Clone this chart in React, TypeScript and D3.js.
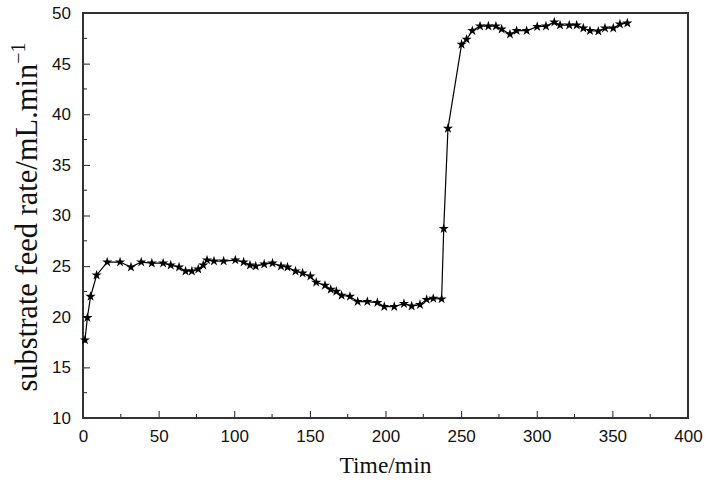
import React, { useEffect, useRef } from 'react';
import * as d3 from 'd3';

// time (min) and substrate feed rate
const times = [
  1.3, 2.9, 5, 9, 16, 24.5, 31.7, 38.5, 45.5, 53, 58, 63.5, 67.8, 72, 76.2, 79.5, 82, 86.6, 93,
  100.7, 106.2, 110.4, 114.2, 119.8, 125.3, 130.9, 135.2, 140.5, 145.2, 150.3, 154.2, 160, 163.8,
  167.5, 171, 176.5, 181.6, 188, 194.6, 199.2, 205.8, 212.2, 217.3, 222.8, 227.2, 231.6, 237.1,
  238.5, 241.3, 250.3, 253.6, 257.4, 262.5, 268, 273, 276.8, 282.3, 286.7, 293.3, 300.3, 306.1,
  311.6, 315.4, 321.5, 326.4, 330.8, 335.2, 340.7, 345.1, 350.6, 355, 359.9,
];
const feedRates = [
  17.7, 19.9, 22.0, 24.1, 25.4, 25.4, 24.9, 25.4, 25.3, 25.3, 25.1, 24.9, 24.5, 24.5, 24.7, 25.1,
  25.6, 25.5, 25.5, 25.6, 25.4, 25.1, 25.0, 25.2, 25.3, 25.0, 24.9, 24.5, 24.3, 24.0, 23.4, 23.1,
  22.7, 22.5, 22.1, 22.0, 21.5, 21.5, 21.4, 21.0, 21.0, 21.3, 21.05, 21.2, 21.7, 21.8, 21.75,
  28.7, 38.6, 46.9, 47.4, 48.25, 48.7, 48.7, 48.7, 48.4, 47.9, 48.25, 48.25, 48.65, 48.7, 49.1,
  48.8, 48.8, 48.8, 48.5, 48.25, 48.2, 48.5, 48.5, 48.9, 49.0,
];
const xTicks = [0, 50, 100, 150, 200, 250, 300, 350, 400];
const yTicks = [10, 15, 20, 25, 30, 35, 40, 45, 50];

const SANS = "'Liberation Sans', Arial, sans-serif";
const SERIF = "'Liberation Serif', 'Times New Roman', serif";

export default function App() {
  const ref = useRef<SVGSVGElement>(null);

  useEffect(() => {
    const svg = d3.select(ref.current);
    svg.selectAll('*').remove();

    const width = 709;
    const height = 483;
    const margin = { top: 13, right: 21, bottom: 65, left: 83 };

    const x = d3.scaleLinear().domain([0, 400]).range([margin.left, width - margin.right]);
    const y = d3.scaleLinear().domain([10, 50]).range([height - margin.bottom, margin.top]);

    const data = times.map((t, i) => ({ t, v: feedRates[i] }));

    // X axis: inward ticks, minor every 25
    const xAxis = svg.append('g').attr('transform', `translate(0,${y(10)})`);
    xAxis
      .call(d3.axisBottom(x).tickValues(xTicks).tickSizeInner(-7).tickSizeOuter(0).tickPadding(12))
      .call((g) => g.select('.domain').remove());
    xAxis
      .selectAll('.minor')
      .data(d3.range(25, 400, 50))
      .enter()
      .append('line')
      .attr('x1', (d) => x(d))
      .attr('x2', (d) => x(d))
      .attr('y1', 0)
      .attr('y2', -4)
      .attr('stroke', '#222');

    // Y axis
    const yAxis = svg.append('g').attr('transform', `translate(${x(0)},0)`);
    yAxis
      .call(d3.axisLeft(y).tickValues(yTicks).tickSizeInner(-7).tickSizeOuter(0).tickPadding(12))
      .call((g) => g.select('.domain').remove());
    yAxis
      .selectAll('.minor')
      .data(d3.range(12.5, 50, 5))
      .enter()
      .append('line')
      .attr('x1', 0)
      .attr('x2', 4)
      .attr('y1', (d) => y(d))
      .attr('y2', (d) => y(d))
      .attr('stroke', '#222');

    svg.selectAll('g').attr('font-family', null);
    svg
      .selectAll('.tick text')
      .style('font-family', SANS)
      .attr('font-size', 17)
      .attr('fill', '#111');
    svg.selectAll('.tick line').attr('stroke', '#222');

    // frame
    svg
      .append('rect')
      .attr('x', x(0))
      .attr('y', y(50))
      .attr('width', x(400) - x(0))
      .attr('height', y(10) - y(50))
      .attr('fill', 'none')
      .attr('stroke', '#333')
      .attr('stroke-width', 2);

    // line + star markers
    const line = d3
      .line<{ t: number; v: number }>()
      .x((d) => x(d.t))
      .y((d) => y(d.v));

    svg
      .append('path')
      .datum(data)
      .attr('fill', 'none')
      .attr('stroke', '#000')
      .attr('stroke-width', 1.2)
      .attr('d', line);

    const star = d3.symbol().type(d3.symbolStar).size(32);
    svg
      .append('g')
      .selectAll('path')
      .data(data)
      .enter()
      .append('path')
      .attr('transform', (d) => `translate(${x(d.t)},${y(d.v)})`)
      .attr('d', star)
      .attr('fill', '#000');

    // axis titles
    svg
      .append('text')
      .attr('x', (x(0) + x(400)) / 2)
      .attr('y', 473)
      .attr('text-anchor', 'middle')
      .style('font-family', SERIF)
      .attr('font-size', 23.5)
      .attr('fill', '#111')
      .text('Time/min');

    const yTitle = svg
      .append('text')
      .attr('transform', `translate(37,217) rotate(-90)`)
      .attr('text-anchor', 'middle')
      .style('font-family', SERIF)
      .attr('font-size', 30.5)
      .attr('fill', '#111');
    yTitle.append('tspan').text('substrate feed rate/mL.min');
    yTitle.append('tspan').attr('dy', -12).attr('font-size', 20).text('−1');
  }, []);

  return (
    <svg
      ref={ref}
      width={709}
      height={483}
      style={{ position: 'absolute', left: 0, top: 0, background: '#fff' }}
    />
  );
}
